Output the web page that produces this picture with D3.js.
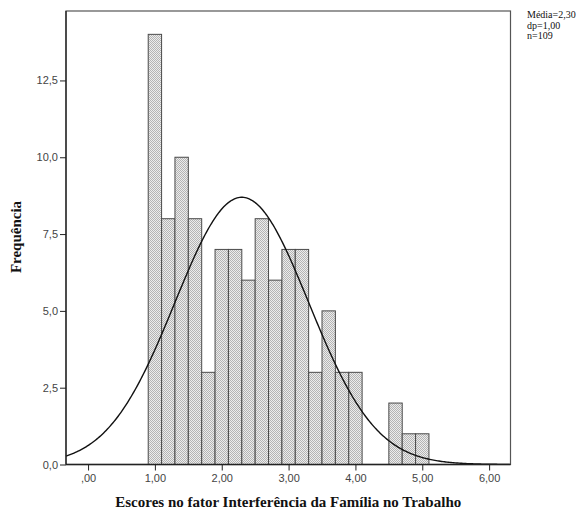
<!DOCTYPE html>
<html><head><meta charset="utf-8">
<script src="https://cdn.jsdelivr.net/npm/d3@7"></script>
<style>body{margin:0;background:#fff}svg{display:block}</style>
</head><body><svg id="c" width="578" height="511"></svg>
<script>
// data
const binStarts = [0.9,1.1,1.3,1.5,1.7,1.9,2.1,2.3,2.5,2.7,2.9,3.1,3.3,3.5,3.7,3.9,4.1,4.3,4.5,4.7,4.9];
const counts    = [14,8,10,8,3,7,7,6,8,6,7,7,3,5,3,3,0,0,2,1,1];
const binWidth = 0.2;
const xTicks = [0,1,2,3,4,5,6];
const xTickLabels = [",00","1,00","2,00","3,00","4,00","5,00","6,00"];
const yTicks = [0,2.5,5,7.5,10,12.5];
const yTickLabels = ["0,0","2,5","5,0","7,5","10,0","12,5"];
const stats = {mean:2.30, sd:1.00, n:109};
const legendLines = ["Média=2,30","dp=1,00","n=109"];
const xTitle = "Escores no fator Interferência da Família no Trabalho";
const yTitle = "Frequência";

const svg = d3.select("#c");
const L=66, R=510.5, T=11, B=464.5;
const x = d3.scaleLinear().domain([-0.33,6.32]).range([L,R]);
const y = d3.scaleLinear().domain([0,14.76]).range([B,T]);

const defs = svg.append("defs");
const pat = defs.append("pattern").attr("id","dots").attr("patternUnits","userSpaceOnUse")
  .attr("width",2).attr("height",2);
pat.append("rect").attr("width",2).attr("height",2).attr("fill","#ececec");
pat.append("rect").attr("width",1).attr("height",1).attr("fill","#b4b4b4");
pat.append("rect").attr("x",1).attr("y",1).attr("width",1).attr("height",1).attr("fill","#b4b4b4");

// frame
svg.append("rect").attr("x",L).attr("y",T).attr("width",R-L).attr("height",B-T)
  .attr("fill","none").attr("stroke","#555").attr("stroke-width",1.2);

// bars
const bars = binStarts.map((s,i)=>({s, c:counts[i]})).filter(d=>d.c>0);
svg.append("g").selectAll("rect").data(bars).join("rect")
  .attr("x",d=>x(d.s)).attr("width",d=>x(d.s+binWidth)-x(d.s))
  .attr("y",d=>y(d.c)).attr("height",d=>y(0)-y(d.c))
  .attr("fill","url(#dots)").attr("stroke","#4a4a4a").attr("stroke-width",1);

// normal curve
const k = stats.n*binWidth/(stats.sd*Math.sqrt(2*Math.PI));
const xs = d3.range(-0.33,6.321,0.02);
svg.append("path").datum(xs)
  .attr("d",d3.line().x(v=>x(v)).y(v=>y(k*Math.exp(-0.5*((v-stats.mean)/stats.sd)**2))))
  .attr("fill","none").attr("stroke","#111").attr("stroke-width",1.4);

// axes
const yAxis = svg.append("g").attr("transform",`translate(${L},0)`)
  .call(d3.axisLeft(y).tickValues(yTicks).tickSize(6).tickPadding(2)
    .tickFormat((d,i)=>yTickLabels[i]));
const xAxis = svg.append("g").attr("transform",`translate(0,${B})`)
  .call(d3.axisBottom(x).tickValues(xTicks).tickSize(6).tickPadding(4)
    .tickFormat((d,i)=>xTickLabels[i]));
[yAxis,xAxis].forEach(g=>{
  g.select(".domain").attr("stroke","#222").attr("stroke-width",1.3);
  g.selectAll(".tick line").attr("stroke","#222");
  g.selectAll(".tick text").attr("fill","#444").attr("font-family","Liberation Sans, Arial, sans-serif").attr("font-size",11);
});
xAxis.select(".domain").attr("d",`M${L},0H${R}`);
yAxis.select(".domain").attr("d",`M0,${B}V${T}`);

// titles
svg.append("text").attr("x",(L+R)/2+0).attr("y",507).attr("text-anchor","middle")
  .attr("font-family","Liberation Serif, Times New Roman, serif").attr("font-weight","bold")
  .attr("font-size",15).attr("fill","#111").text(xTitle);
svg.append("text").attr("transform","translate(21,237) rotate(-90)").attr("text-anchor","middle")
  .attr("font-family","Liberation Serif, Times New Roman, serif").attr("font-weight","bold")
  .attr("font-size",15).attr("fill","#111").text(yTitle);

// legend
svg.append("g").selectAll("text").data(legendLines).join("text")
  .attr("x",527).attr("y",(d,i)=>18+i*10.5)
  .attr("font-family","Liberation Serif, Times New Roman, serif").attr("font-size",10)
  .attr("fill","#111").text(d=>d);
</script></body></html>
